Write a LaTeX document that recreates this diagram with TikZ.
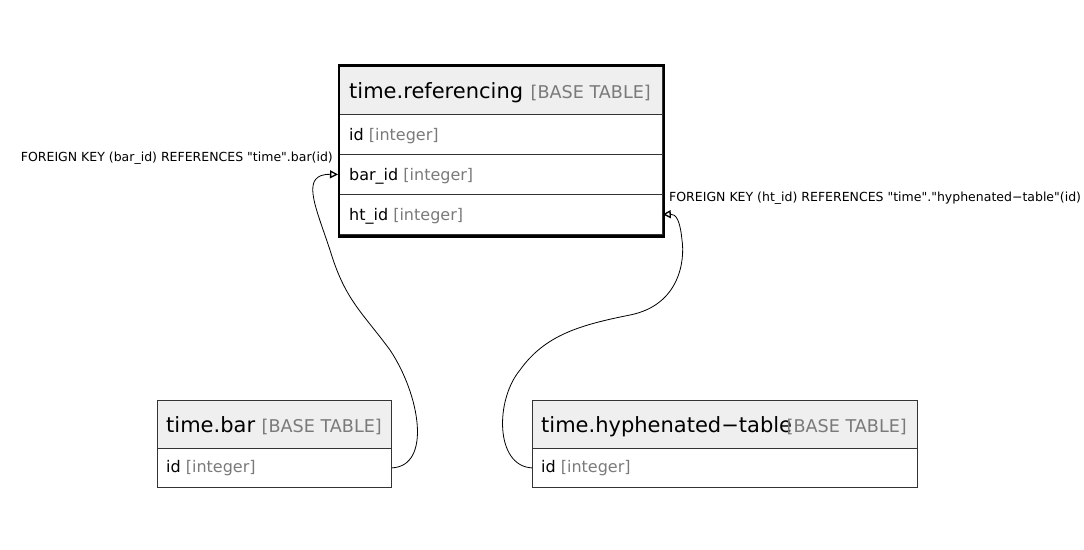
\documentclass[tikz,border=0pt]{standalone}
\usepackage{fontspec}
\setmainfont{DejaVu Sans}[Ligatures=TeXOff]
\usetikzlibrary{arrows.meta}
\definecolor{hdrfill}{HTML}{EFEFEF}
\definecolor{typegray}{HTML}{7A7A7A}
\definecolor{linegray}{HTML}{333333}
\tikzset{
  tbl/.style={draw=linegray, line width=0.8pt, rectangle, anchor=north west, inner sep=0pt},
  hdr/.style={tbl, fill=hdrfill},
  title/.style={anchor=base west, inner sep=0pt, font=\fontsize{21}{24}\selectfont},
  kind/.style={anchor=base east, inner sep=0pt, text=typegray, font=\fontsize{17.6}{20}\selectfont},
  col/.style={anchor=base west, inner sep=0pt, font=\fontsize{16}{19}\selectfont},
  fklabel/.style={inner sep=0pt, font=\fontsize{12.5}{15}\selectfont},
  fk/.style={line width=0.8pt, -{Triangle[open,length=8pt,width=8pt,line width=1.3pt]}},
}
\newcommand{\ty}[1]{{\color{typegray}#1}}
\begin{document}
\begin{tikzpicture}[x=1pt,y=-1pt]
\useasboundingbox (0,0) rectangle (1084,549);
% ---- time.referencing
\node[hdr, minimum width=324pt, minimum height=49pt] (refh) at (338,65) {};
\node[tbl, minimum width=324pt, minimum height=40pt] (refid) at (338,114) {};
\node[tbl, minimum width=324pt, minimum height=40pt] (refbar) at (338,154) {};
\node[tbl, minimum width=324pt, minimum height=40pt] (refht) at (338,194) {};
\node[draw=black, line width=2.6pt, minimum width=325pt, minimum height=171pt, anchor=north west, inner sep=0pt] (refbox) at (337.5,64) {};
\node[title] (reft) at (349,98) {time.referencing};
\node[kind] (refk) at (651,98) {[BASE TABLE]};
\node[col] (refc1) at (349,140) {id \ty{[integer]}};
\node[col] (refc2) at (349,180) {bar\_id \ty{[integer]}};
\node[col] (refc3) at (349,220) {ht\_id \ty{[integer]}};
% ---- time.bar
\node[hdr, minimum width=234pt, minimum height=48pt] (barh) at (157,400) {};
\node[tbl, minimum width=234pt, minimum height=39pt] (barid) at (157,448) {};
\node[title] (bart) at (166,432) {time.bar};
\node[kind] (bark) at (382,432) {[BASE TABLE]};
\node[col] (barc1) at (166,472) {id \ty{[integer]}};
% ---- time.hyphenated-table
\node[hdr, minimum width=385pt, minimum height=48pt] (hyph) at (532,400) {};
\node[tbl, minimum width=385pt, minimum height=39pt] (hyid) at (532,448) {};
\node[title] (hyt) at (541,432) {time.hyphenated−table};
\node[kind] (hyk) at (907,432) {[BASE TABLE]};
\node[col] (hyc1) at (541,472) {id \ty{[integer]}};
% ---- labels
\node[fklabel, anchor=base east] (lab1) at (333,161) {FOREIGN KEY (bar\_id) REFERENCES "time".bar(id)};
\node[fklabel, anchor=base west] (lab2) at (669,201) {FOREIGN KEY (ht\_id) REFERENCES "time"."hyphenated−table"(id)};
% ---- connectors
\draw[fk] (barid.east) .. controls (432,466) and (420,395) .. (390,350)
  .. controls (362,312) and (345,300) .. (330,250)
  .. controls (315,205) and (300,174) .. (refbar.west);
\draw[fk] (hyid.west) .. controls (495,466) and (495,400) .. (520,370)
  .. controls (545,335) and (580,325) .. (630,315)
  .. controls (680,305) and (685,260) .. (682,240)
  .. controls (680,220) and (676,214) .. (refht.east);
\end{tikzpicture}
\end{document}
